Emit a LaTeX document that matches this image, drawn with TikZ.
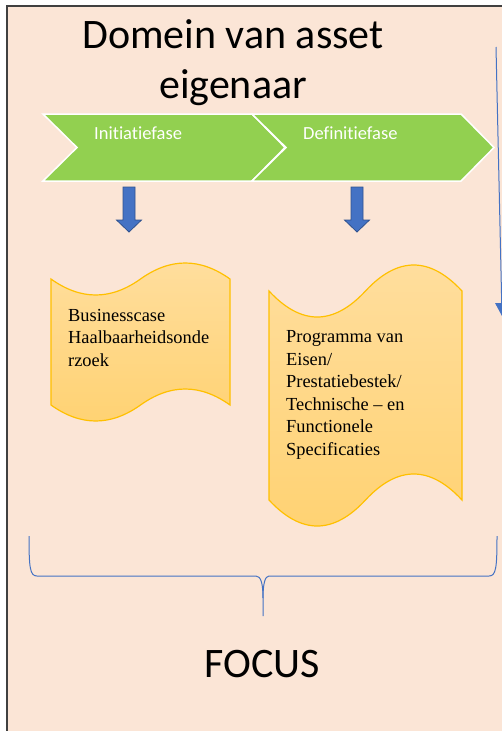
\documentclass[tikz,border=0pt]{standalone}
\usepackage{fontspec}
\setmainfont{Carlito}[Ligatures={NoCommon}]
\newfontfamily\schrift{Liberation Serif}
\usepackage{tikz}
\usetikzlibrary{positioning,arrows.meta}
\definecolor{perzik}{HTML}{FBE5D6}
\definecolor{groen}{HTML}{92D050}
\definecolor{blauw}{HTML}{4472C4}
\definecolor{donkerblauw}{HTML}{2F528F}
\definecolor{goud}{HTML}{FFC000}
\definecolor{lichtgoud}{HTML}{FFDE9E}
\definecolor{middengoud}{HTML}{FFD272}

\begin{document}
\begin{tikzpicture}[x=1pt,y=-1pt,
	fasetekst/.style={font=\fontsize{18.5}{22}\selectfont,text=white,anchor=base west,inner sep=0},
	roltekst/.style={font=\schrift\fontsize{18.4}{22.5}\selectfont,align=left,anchor=base west,inner sep=0},
	groottekst/.style={font=\fontsize{42}{50}\selectfont,inner sep=0}]
	\useasboundingbox[fill=white](0,0)rectangle(502,731);
	\clip(0,0)rectangle(502,731);
	\draw[fill=perzik,draw=black!75,line width=1.3](7,6)rectangle(520,750);
	\node[groottekst,align=center,anchor=base](titel)at(233,98){Domein van asset\\eigenaar};
	\foreach \x/\fase/\naam in {0/Initiatiefase/init,209/Definitiefase/def}{
		\draw[fill=groen,draw=white,line width=1.5](43+\x,114)--(252+\x,114)--(285+\x,147.5)--(252+\x,181)--(43+\x,181)--(77+\x,147.5)--cycle;
		\node[fasetekst](\naam)at(94+\x,139){\fase};
	}
	\foreach \x in {129,357}{
		\draw[fill=blauw,draw=donkerblauw,line width=.8](\x-6,187)--(\x+6,187)--(\x+6,220)--(\x+12.5,220)--(\x,232)--(\x-12.5,220)--(\x-6,220)--cycle;
	}
	\foreach \xa/\xb/\yt/\yb/\amp in {51/230/279/405/16,269/462/291/500/26}{
		\pgfmathsetmacro{\w}{\xb-\xa}
		\pgfmathsetmacro{\kk}{4*\amp/3}
		\draw[top color=lichtgoud,bottom color=middengoud,draw=goud,line width=1.2]
			(\xa,\yt)..controls(\xa+\w/6,\yt+\kk)and(\xa+\w/3,\yt+\kk)..(\xa+\w/2,\yt)
			..controls(\xa+2*\w/3,\yt-\kk)and(\xa+5*\w/6,\yt-\kk)..(\xb,\yt)
			--(\xb,\yb)..controls(\xa+5*\w/6,\yb-\kk)and(\xa+2*\w/3,\yb-\kk)..(\xa+\w/2,\yb)
			..controls(\xa+\w/3,\yb+\kk)and(\xa+\w/6,\yb+\kk)..(\xa,\yb)--cycle;
	}
	\node[roltekst](bcase)at(68,366){Businesscase\\Haalbaarheidsonde\\rzoek};
	\node[roltekst](pve)at(286,455){Programma van\\Eisen/\\Prestatiebestek/\\Technische – en\\Functionele\\Specificaties};
	\coordinate(lijnboven)at(496,47);
	\coordinate(lijnonder)at(502,316);
	\draw[blauw,line width=1,-{Triangle[width=13pt,length=13pt]}](lijnboven)--(lijnonder);
	\draw[blauw,line width=1](29,536)..controls(29,568)and(30,576)..(37,576)--(256,576)..controls(261,576)and(263,584)..(263,598)--(263,616);
	\draw[blauw,line width=1](497,536)..controls(497,568)and(496,576)..(489,576)--(269,576)..controls(265,576)and(263,584)..(263,598);
	\node[groottekst,anchor=base](focus)at(262,677){FOCUS};
\end{tikzpicture}
\end{document}
